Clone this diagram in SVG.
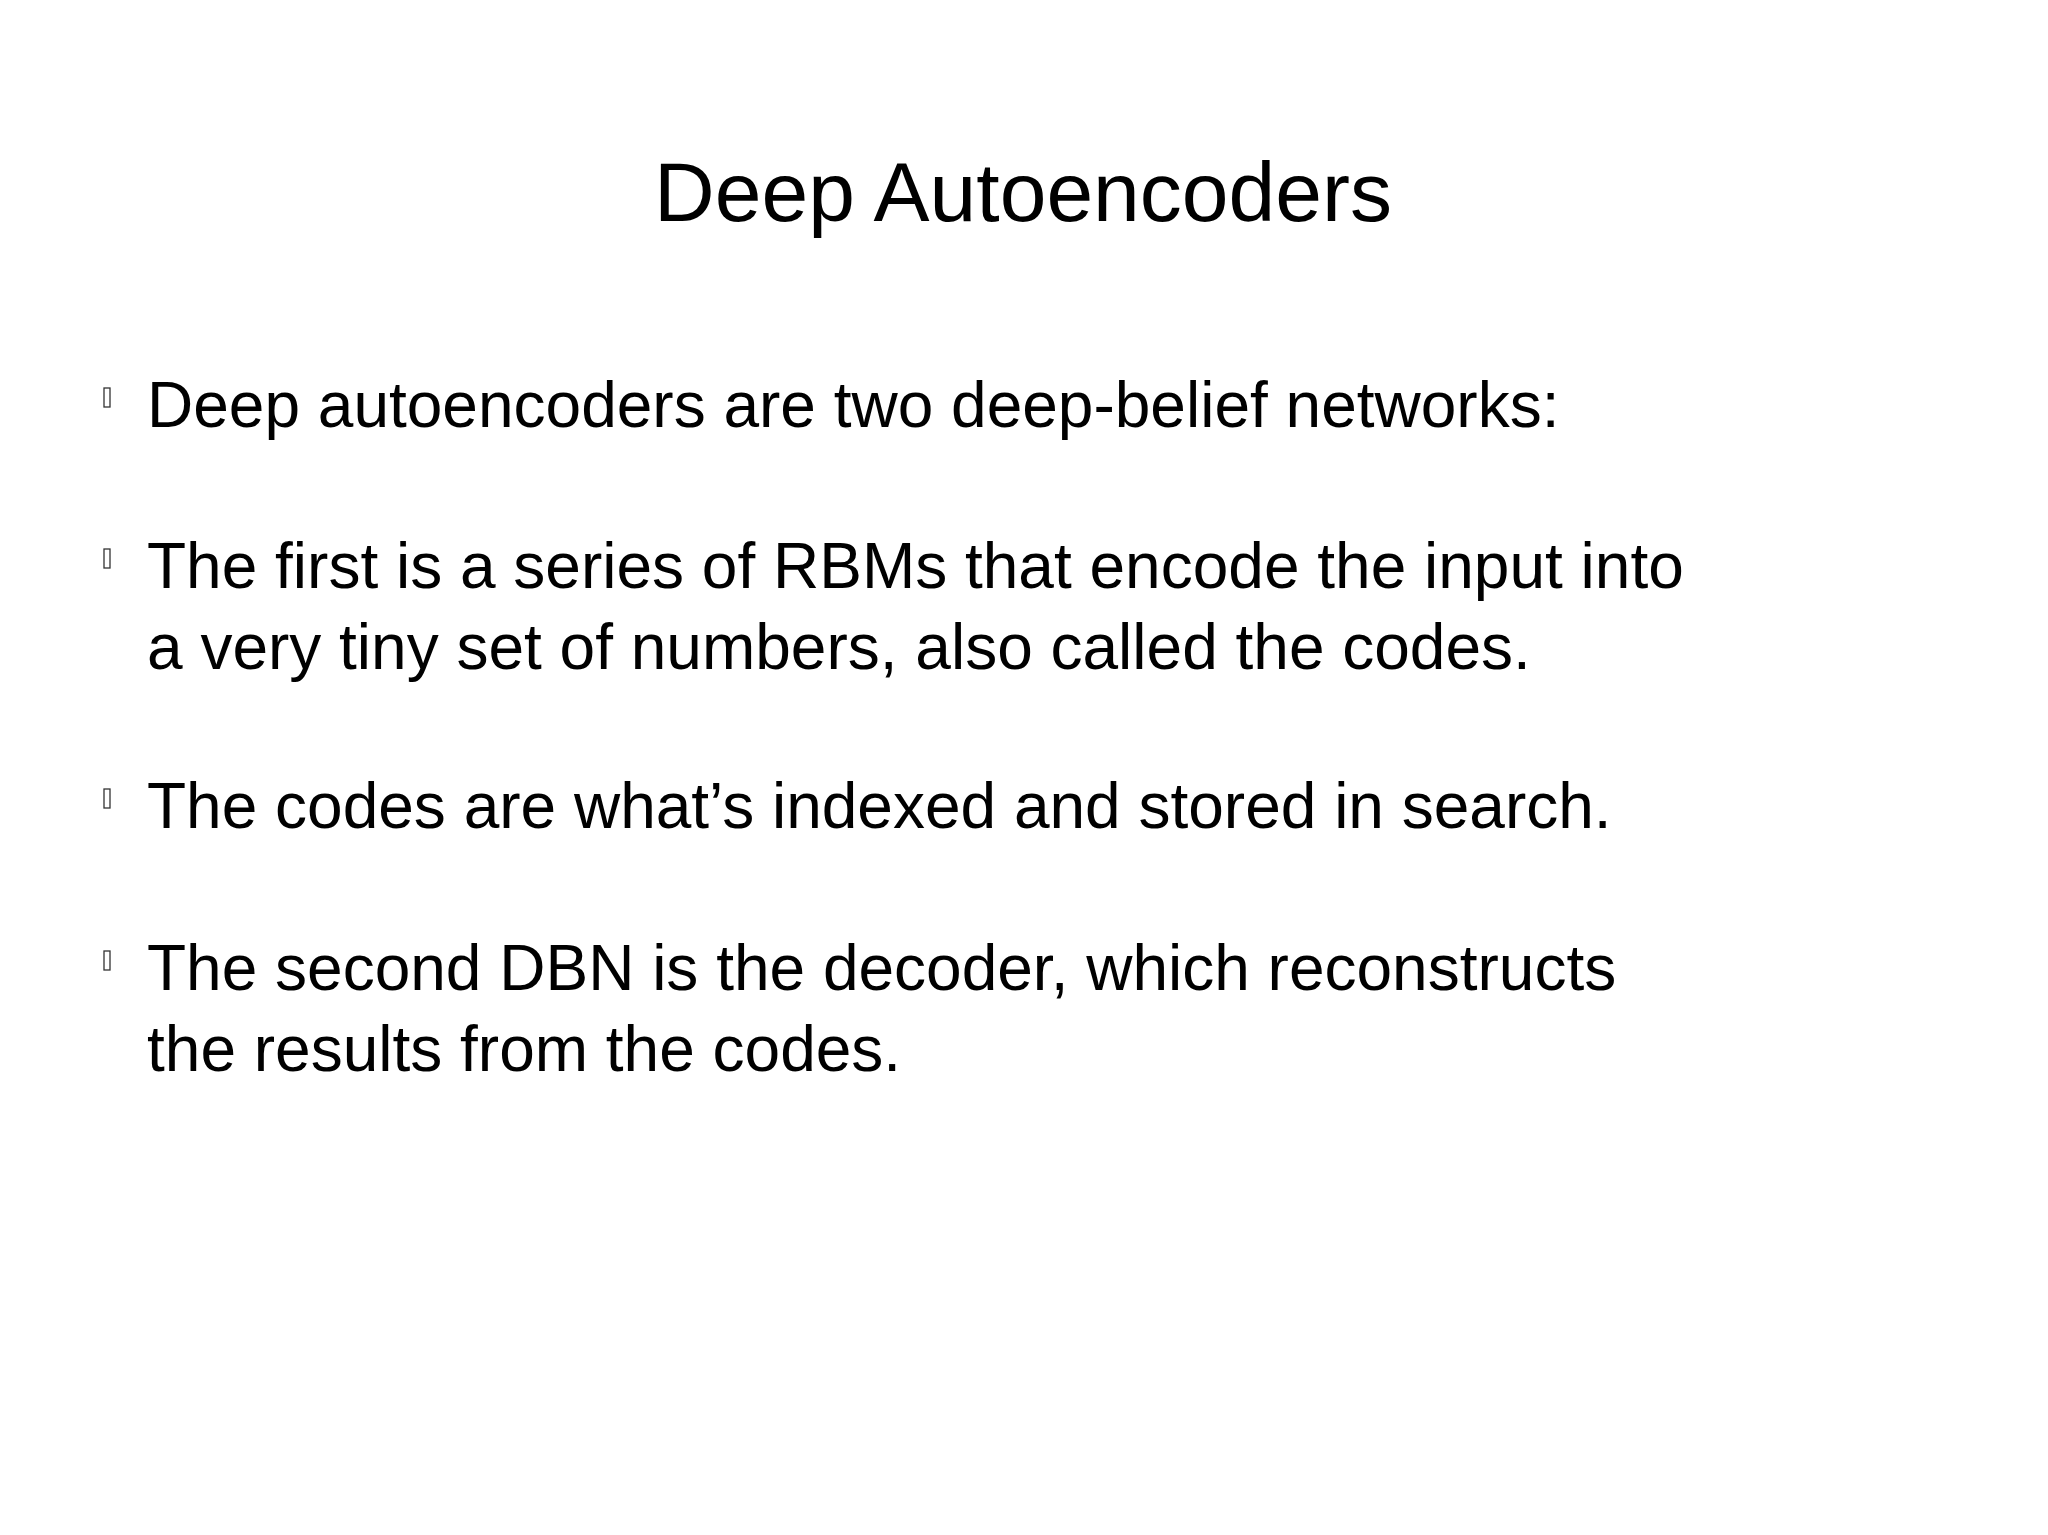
<svg xmlns="http://www.w3.org/2000/svg" width="2048" height="1535" viewBox="0 0 2048 1535">
<style>
.t{font-family:"Liberation Sans",Arial,sans-serif;fill:#000}
.b{font-size:64px}
.bl{fill:none;stroke:#333;stroke-width:1.3}
</style>
<rect width="2048" height="1535" fill="#fff"/>
<text class="t" x="1023" y="221" font-size="84" text-anchor="middle">Deep Autoencoders</text>
<g class="t b">
<text x="147" y="427">Deep autoencoders are two deep-belief networks:</text>
<text x="147" y="588">The first is a series of RBMs that encode the input into</text>
<text x="147" y="669">a very tiny set of numbers, also called the codes.</text>
<text x="147" y="828">The codes are what’s indexed and stored in search.</text>
<text x="147" y="990">The second DBN is the decoder, which reconstructs</text>
<text x="147" y="1071">the results from the codes.</text>
</g>
<rect class="bl" x="104" y="388" width="6" height="19"/>
<rect class="bl" x="104" y="549" width="6" height="19"/>
<rect class="bl" x="104" y="789" width="6" height="19"/>
<rect class="bl" x="104" y="951" width="6" height="19"/>
</svg>
